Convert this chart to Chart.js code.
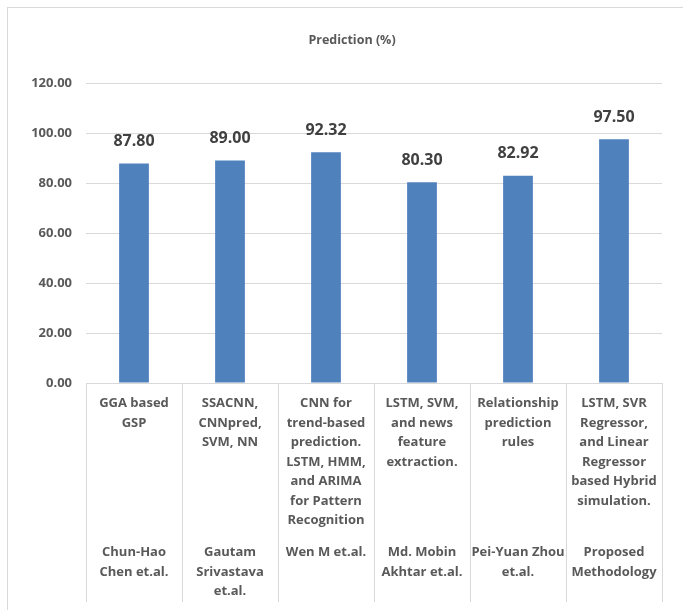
<!DOCTYPE html>
<html>
<head>
<meta charset="utf-8">
<script src="https://cdn.jsdelivr.net/npm/chart.js@4/dist/chart.umd.min.js"></script>
<style>
  html, body { margin: 0; padding: 0; background: #fff; overflow: hidden; }
  #wrap { position: absolute; left: 0; top: 0; width: 704px; height: 620px; }
  #frame { position: absolute; left: 7px; top: 7px; width: 700px; height: 620px; border: 1px solid #d9d9d9; box-sizing: border-box; }
</style>
</head>
<body>
<div id="frame"></div>
<div id="wrap"><canvas id="barchart"></canvas></div>
<script>
const methods = [
	["GGA based", "GSP"],
	["SSACNN,", "CNNpred,", "SVM, NN"],
	["CNN for", "trend-based", "prediction.", "LSTM, HMM,", "and ARIMA", "for Pattern", "Recognition"],
	["LSTM, SVM,", "and news", "feature", "extraction."],
	["Relationship", "prediction", "rules"],
	["LSTM, SVR", "Regressor,", "and Linear", "Regressor", "based Hybrid", "simulation."]
];
const authors = [
	["Chun-Hao", "Chen et.al."],
	["Gautam", "Srivastava", "et.al."],
	["Wen M et.al."],
	["Md. Mobin", "Akhtar et.al."],
	["Pei-Yuan Zhou", "et.al."],
	["Proposed", "Methodology"]
];
const prediction = [87.80, 89.00, 92.32, 80.30, 82.92, 97.50];
const yTicks = [0, 20, 40, 60, 80, 100, 120];

const FONT = "'Open Sans', sans-serif";
const GREY = "#595959";

// value labels over the bars + group separators under the axis
const extras = {
	id: 'extras',
	afterDatasetsDraw(chart) {
		const ctx = chart.ctx;
		const meta = chart.getDatasetMeta(0);
		ctx.save();
		ctx.font = "bold 16px " + FONT;
		ctx.fillStyle = "#404040";
		ctx.textAlign = "center";
		ctx.textBaseline = "middle";
		meta.data.forEach((bar, i) => {
			ctx.fillText(prediction[i].toFixed(2), bar.x, bar.y - 22);
		});
		const x = chart.scales.x;
		const y0 = chart.scales.y.getPixelForValue(0);
		const w = (x.right - x.left) / methods.length;
		ctx.strokeStyle = "#d9d9d9";
		ctx.lineWidth = 1;
		for (let i = 0; i <= methods.length; i++) {
			const px = Math.round(x.left + i * w) + 0.5;
			ctx.beginPath();
			ctx.moveTo(px, y0);
			ctx.lineTo(px, 602);
			ctx.stroke();
		}
		ctx.restore();
	}
};

const tickFont = { family: FONT, size: 13, weight: 'bold', lineHeight: 1.5 };

new Chart(document.getElementById("barchart"), {
	type: 'bar',
	data: {
		labels: methods,
		datasets: [{
			data: prediction,
			label: 'Prediction (%)',
			backgroundColor: "#4f81bd",
			borderWidth: 0,
			barPercentage: 0.31,
			categoryPercentage: 1.0
		}]
	},
	options: {
		responsive: true,
		maintainAspectRatio: false,
		animation: false,
		layout: { padding: 0 },
		plugins: {
			legend: { display: false },
			tooltip: { enabled: false },
			title: {
				display: true,
				text: 'Prediction (%)',
				color: GREY,
				font: { family: FONT, size: 12.5, weight: 'bold' },
				padding: { top: 33, bottom: 35 }
			}
		},
		scales: {
			x: {
				position: 'bottom',
				grid: { display: false, drawTicks: false },
				border: { display: false },
				ticks: {
					color: GREY,
					autoSkip: false,
					maxRotation: 0,
					minRotation: 0,
					padding: 11,
					font: tickFont
				},
				afterFit(scale) { scale.height = 149; }
			},
			x2: {
				type: 'category',
				position: 'bottom',
				labels: authors,
				grid: { display: false, drawTicks: false },
				border: { display: false },
				ticks: {
					color: GREY,
					autoSkip: false,
					maxRotation: 0,
					minRotation: 0,
					padding: 11,
					font: tickFont
				},
				afterFit(scale) { scale.height = 88; }
			},
			y: {
				min: 0,
				max: 120,
				afterBuildTicks(scale) { scale.ticks = yTicks.map(v => ({ value: v })); },
				grid: { color: "#d9d9d9", drawTicks: false },
				border: { display: false },
				ticks: {
					color: GREY,
					padding: 14,
					font: { family: FONT, size: 13, weight: 'bold' },
					callback: v => Number(v).toFixed(2)
				},
				afterFit(scale) { scale.width = 86; }
			},
			// empty right-hand strip so the title centres like the original
			yRight: {
				position: 'right',
				min: 0,
				max: 120,
				grid: { display: false },
				border: { display: false },
				ticks: { display: false },
				afterFit(scale) { scale.width = 42; }
			}
		}
	},
	plugins: [extras]
});
</script>
</body>
</html>
